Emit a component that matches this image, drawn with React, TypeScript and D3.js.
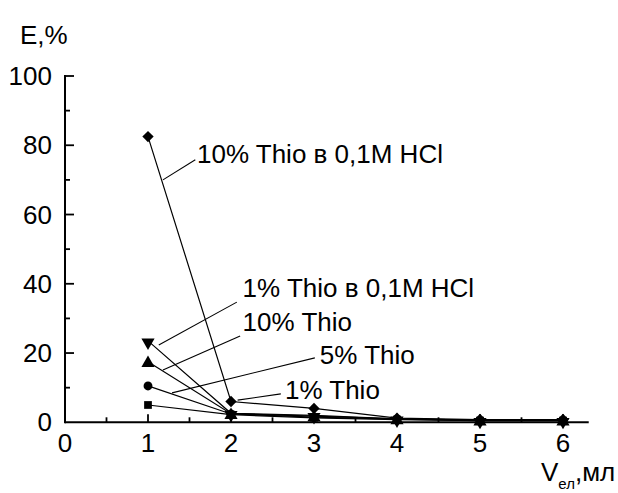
import React, { useEffect, useRef } from "react";
import * as d3 from "d3";

// volumes, ml
const volumes = [1, 2, 3, 4, 5, 6];

// E, % per series
const hcl10 = [82.5, 6.0, 4.0, 1.2, 0.8, 0.8];
const hcl1 = [23.5, 2.6, 2.0, 1.0, 0.6, 0.6];
const thio10 = [17.5, 2.5, 1.8, 1.0, 0.6, 0.6];
const thio5 = [10.5, 2.4, 1.5, 0.9, 0.5, 0.5];
const thio1 = [5.0, 2.2, 1.3, 0.8, 0.5, 0.5];

const seriesNames = [
  "10% Thio в 0,1M HCl",
  "1% Thio в 0,1M HCl",
  "10% Thio",
  "5% Thio",
  "1% Thio",
];
const seriesValues = [hcl10, hcl1, thio10, thio5, thio1];
const seriesMarkers = ["diamond", "down", "up", "circle", "square"];

// label anchor (data units) and leader line from -> to (data units)
const labelAt = [
  [1.59, 77.5],
  [2.14, 38.8],
  [2.14, 29.0],
  [3.07, 19.5],
  [2.65, 9.3],
];
const leaderFrom = [
  [1.57, 75.8],
  [2.07, 34.7],
  [2.11, 24.9],
  [3.01, 18.6],
  [2.6, 8.2],
];
const leaderTo = [
  [1.18, 70.0],
  [1.13, 22.3],
  [1.18, 15.1],
  [1.29, 8.5],
  [2.08, 6.4],
];

const xTicks = [0, 1, 2, 3, 4, 5, 6];
const yTicks = [0, 20, 40, 60, 80, 100];

const App: React.FC = () => {
  const svgRef = useRef<SVGSVGElement | null>(null);

  useEffect(() => {
    const svg = d3.select(svgRef.current);
    svg.selectAll("*").remove();
    const font = "Liberation Sans, Arial, sans-serif";

    const x = d3.scaleLinear().domain([0, 6]).range([65, 563]);
    const y = d3.scaleLinear().domain([0, 100]).range([422.3, 76]);

    svg.append("rect").attr("width", 618).attr("height", 493).attr("fill", "white");

    const g = svg.append("g").style("font-family", font);

    // axes
    g.append("line")
      .attr("x1", x(0)).attr("x2", x(6.31))
      .attr("y1", y(0)).attr("y2", y(0))
      .attr("stroke", "black").attr("stroke-width", 2);
    g.append("line")
      .attr("x1", x(0)).attr("x2", x(0))
      .attr("y1", y(0) + 1).attr("y2", y(100) - 1)
      .attr("stroke", "black").attr("stroke-width", 2);

    // x ticks (inward)
    d3.range(0.5, 6.01, 0.5).forEach((v) => {
      const major = Number.isInteger(v);
      g.append("line")
        .attr("x1", x(v)).attr("x2", x(v))
        .attr("y1", y(0)).attr("y2", y(0) - (major ? 8 : 5))
        .attr("stroke", "black").attr("stroke-width", 1.8);
    });
    // y ticks (inward)
    d3.range(10, 100.1, 10).forEach((v) => {
      const major = v % 20 === 0;
      g.append("line")
        .attr("x1", x(0)).attr("x2", x(0) + (major ? 9 : 5))
        .attr("y1", y(v)).attr("y2", y(v))
        .attr("stroke", "black").attr("stroke-width", 1.8);
    });

    g.selectAll(".xl")
      .data(xTicks)
      .enter()
      .append("text")
      .attr("x", (d) => x(d))
      .attr("y", y(0) + 30)
      .attr("text-anchor", "middle")
      .attr("font-size", 26)
      .text((d) => d);

    g.selectAll(".yl")
      .data(yTicks)
      .enter()
      .append("text")
      .attr("x", x(0) - 13)
      .attr("y", (d) => y(d))
      .attr("dy", "0.35em")
      .attr("text-anchor", "end")
      .attr("font-size", 26)
      .text((d) => d);

    g.append("text")
      .attr("x", 20).attr("y", 44)
      .attr("font-size", 26)
      .text("E,%");

    const xt = g.append("text").attr("x", 541).attr("y", 481).attr("font-size", 26);
    xt.append("tspan").text("V");
    xt.append("tspan").attr("font-size", 15).attr("dy", 8).text("ел");
    xt.append("tspan").attr("dy", -8).text(",мл");

    // series lines
    const line = d3
      .line<number>()
      .x((_d, i) => x(volumes[i]))
      .y((d) => y(d));

    seriesValues.forEach((vals) => {
      g.append("path")
        .attr("d", line(vals)!)
        .attr("fill", "none")
        .attr("stroke", "black")
        .attr("stroke-width", 1.2);
    });

    // leader lines and labels
    seriesNames.forEach((name, i) => {
      g.append("line")
        .attr("x1", x(leaderFrom[i][0])).attr("y1", y(leaderFrom[i][1]))
        .attr("x2", x(leaderTo[i][0])).attr("y2", y(leaderTo[i][1]))
        .attr("stroke", "black").attr("stroke-width", 1.1);
      g.append("text")
        .attr("x", x(labelAt[i][0]))
        .attr("y", y(labelAt[i][1]))
        .attr("dy", "0.36em")
        .attr("font-size", 26)
        .text(name);
    });

    // markers
    const symbolFor = (m: string) => {
      if (m === "diamond") return d3.symbol(d3.symbolSquare, 64)();
      if (m === "up" || m === "down") return d3.symbol(d3.symbolTriangle, 75)();
      if (m === "circle") return d3.symbol(d3.symbolCircle, 62)();
      return d3.symbol(d3.symbolSquare, 60)();
    };
    const rotFor = (m: string) => (m === "diamond" ? 45 : m === "down" ? 180 : 0);

    seriesValues.forEach((vals, si) => {
      const m = seriesMarkers[si];
      g.selectAll(".m" + si)
        .data(vals)
        .enter()
        .append("path")
        .attr("d", symbolFor(m)!)
        .attr(
          "transform",
          (d, i) =>
            `translate(${x(volumes[i])},${y(d)}) rotate(${rotFor(m)})` +
            (m === "down" ? " translate(0,-1.5)" : m === "up" ? " translate(0,1.5)" : "")
        )
        .attr("fill", "black");
    });
  }, []);

  return (
    <svg
      ref={svgRef}
      width={618}
      height={493}
      style={{ position: "absolute", left: 0, top: 0 }}
    />
  );
};

export default App;
